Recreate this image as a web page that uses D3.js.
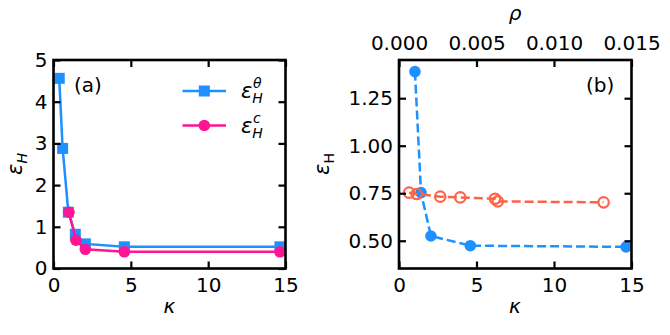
<!DOCTYPE html>
<html><head><meta charset="utf-8">
<script src="https://cdn.jsdelivr.net/npm/d3@7"></script>
<style>
body{margin:0;background:#fff;}
svg text{font-family:"DejaVu Sans",sans-serif;fill:#000;}
</style></head>
<body><svg id="c" width="670" height="335"></svg>
<script>
// ---- data ----
const kappaTheta = [0.37, 0.59, 0.96, 1.41, 2.06, 4.58, 14.64];
const epsTheta   = [4.56, 2.88, 1.35, 0.82, 0.59, 0.52, 0.52];
const kappaC     = [1.0, 1.45, 2.06, 4.58, 14.64];
const epsC       = [1.35, 0.68, 0.46, 0.40, 0.40];
const kappaB     = [1.03, 1.42, 2.06, 4.6, 14.65];
const epsB       = [1.39, 0.753, 0.525, 0.474, 0.468];
const rhoB       = [0.00065, 0.00114, 0.00266, 0.00395, 0.00619, 0.00637, 0.0132];
const epsRho     = [0.753, 0.746, 0.732, 0.728, 0.721, 0.707, 0.702];
const ticksA_x = [0, 5, 10, 15];
const ticksA_y = [0, 1, 2, 3, 4, 5];
const ticksB_y = [0.5, 0.75, 1.0, 1.25];
const ticksB_rho = [0, 0.005, 0.010, 0.015];

const BLUE = "#1e90ff", PINK = "#ff1493", ORANGE = "#ff6347";
const svg = d3.select("#c");
const FS = 20;

function frameAxes(g, x, y, xt, yt, xFmt, yFmt, topScale, topTicks, topFmt){
  const [x0,x1] = x.range(), [y0,y1] = y.range();
  const TL = 7;
  const bottom = g.append("g").attr("transform",`translate(0,${y0})`)
    .call(d3.axisBottom(x).tickValues(xt).tickSize(-TL).tickPadding(9).tickFormat(xFmt));
  const top = g.append("g").attr("transform",`translate(0,${y1})`)
    .call(d3.axisTop(topScale||x).tickValues(topTicks||xt).tickSize(-TL).tickPadding(10).tickFormat(topFmt||(()=>"")));
  const left = g.append("g").attr("transform",`translate(${x0},0)`)
    .call(d3.axisLeft(y).tickValues(yt).tickSize(-TL).tickPadding(6).tickFormat(yFmt));
  const right = g.append("g").attr("transform",`translate(${x1},0)`)
    .call(d3.axisRight(y).tickValues(yt).tickSize(-TL).tickFormat(()=>""));
  [bottom,top,left,right].forEach(a=>{
    a.select(".domain").remove();
    a.selectAll(".tick line").attr("stroke","#000").attr("stroke-width",2.2);
    a.selectAll(".tick text").attr("font-size",FS).attr("font-family","DejaVu Sans").attr("fill","#000");
  });
  g.append("rect").attr("x",x0).attr("y",y1).attr("width",x1-x0).attr("height",y0-y1)
    .attr("fill","none").attr("stroke","#000").attr("stroke-width",2.6);
}

// ---------- Panel (a) ----------
const gA = svg.append("g");
const xA = d3.scaleLinear().domain([0,15]).range([53.5,285.5]);
const yA = d3.scaleLinear().domain([0,5]).range([268.5,60]);
const lineA = d3.line().x(d=>xA(d[0])).y(d=>yA(d[1]));
const dTheta = kappaTheta.map((k,i)=>[k,epsTheta[i]]);
const dC = kappaC.map((k,i)=>[k,epsC[i]]);
gA.append("path").attr("d",lineA(dTheta)).attr("fill","none").attr("stroke",BLUE).attr("stroke-width",2.5);
gA.selectAll(".sq").data(dTheta).enter().append("rect")
  .attr("x",d=>xA(d[0])-5.5).attr("y",d=>yA(d[1])-5.5).attr("width",11).attr("height",11).attr("fill",BLUE);
gA.append("path").attr("d",lineA(dC)).attr("fill","none").attr("stroke",PINK).attr("stroke-width",2.5);
gA.selectAll(".ci").data(dC).enter().append("circle")
  .attr("cx",d=>xA(d[0])).attr("cy",d=>yA(d[1])).attr("r",5.8).attr("fill",PINK);
frameAxes(gA, xA, yA, ticksA_x, ticksA_y, d3.format("d"), d3.format("d"));

gA.append("text").attr("x",74).attr("y",91.5).attr("font-size",FS).text("(a)");
// legend
const leg = [{c:BLUE, m:"sq", sup:"θ", y:91},{c:PINK, m:"ci", sup:"c", y:125.5}];
leg.forEach(l=>{
  gA.append("line").attr("x1",182.5).attr("x2",226).attr("y1",l.y).attr("y2",l.y).attr("stroke",l.c).attr("stroke-width",2.5);
  if(l.m==="sq") gA.append("rect").attr("x",204.3-5.5).attr("y",l.y-5.5).attr("width",11).attr("height",11).attr("fill",l.c);
  else gA.append("circle").attr("cx",204.3).attr("cy",l.y).attr("r",5.8).attr("fill",l.c);
  const t = gA.append("text").attr("x",241).attr("y",l.y+7).attr("font-size",21).attr("font-style","italic");
  t.append("tspan").text("ε");
  t.append("tspan").attr("font-size",14).attr("dy",5).text("H");
  t.append("tspan").attr("font-size",14).attr("x",253).attr("dy",-15).text(l.sup);
});
gA.append("text").attr("x",169.5).attr("y",313).attr("text-anchor","middle").attr("font-size",FS).attr("font-style","italic").text("κ");
const ylA = gA.append("text").attr("transform","translate(22,164) rotate(-90)").attr("text-anchor","middle").attr("font-size",21).attr("font-style","italic");
ylA.append("tspan").text("ε");
ylA.append("tspan").attr("font-size",14).attr("dy",5).text("H");

// ---------- Panel (b) ----------
const gB = svg.append("g");
const xB = d3.scaleLinear().domain([0,15]).range([399,631.5]);
const rB = d3.scaleLinear().domain([0,0.015]).range([399,631.5]);
const yB = d3.scaleLinear().domain([0.354,1.451]).range([268.5,60]);
const dB = kappaB.map((k,i)=>[k,epsB[i]]);
const dR = rhoB.map((r,i)=>[r,epsRho[i]]);
gB.append("path").attr("d",d3.line().x(d=>xB(d[0])).y(d=>yB(d[1]))(dB))
  .attr("fill","none").attr("stroke",BLUE).attr("stroke-width",2.5).attr("stroke-dasharray","9,4");
gB.selectAll(".bc").data(dB).enter().append("circle")
  .attr("cx",d=>xB(d[0])).attr("cy",d=>yB(d[1])).attr("r",5.8).attr("fill",BLUE);
gB.append("path").attr("d",d3.line().x(d=>rB(d[0])).y(d=>yB(d[1]))(dR))
  .attr("fill","none").attr("stroke",ORANGE).attr("stroke-width",2.5).attr("stroke-dasharray","9,4");
gB.selectAll(".oc").data(dR).enter().append("circle")
  .attr("cx",d=>rB(d[0])).attr("cy",d=>yB(d[1])).attr("r",5.2).attr("fill","none").attr("stroke",ORANGE).attr("stroke-width",2.2);
frameAxes(gB, xB, yB, ticksA_x, ticksB_y, d3.format("d"), d3.format(".2f"), rB, ticksB_rho, d3.format(".3f"));

gB.append("text").attr("x",586).attr("y",91.5).attr("font-size",FS).text("(b)");
gB.append("text").attr("x",515).attr("y",313).attr("text-anchor","middle").attr("font-size",FS).attr("font-style","italic").text("κ");
gB.append("text").attr("x",515).attr("y",20).attr("text-anchor","middle").attr("font-size",FS).attr("font-style","italic").text("ρ");
const ylB = gB.append("text").attr("transform","translate(329,164) rotate(-90)").attr("text-anchor","middle").attr("font-size",21);
ylB.append("tspan").attr("font-style","italic").text("ε");
ylB.append("tspan").attr("font-size",14).attr("dy",5).text("H");
</script></body></html>
